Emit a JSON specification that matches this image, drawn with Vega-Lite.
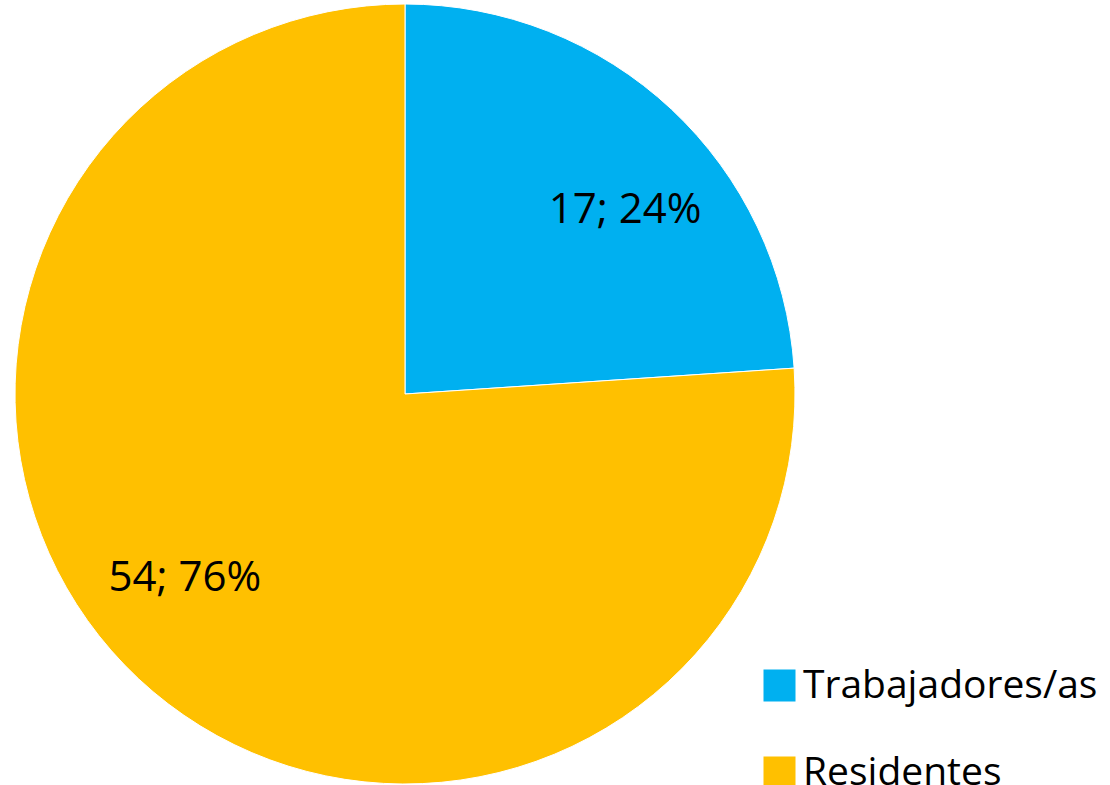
{
  "$schema": "https://vega.github.io/schema/vega-lite/v6.json",
  "width": 810,
  "height": 782,
  "autosize": "none",
  "padding": {"left": 0, "top": 3, "right": 300, "bottom": 0},
  "background": "white",
  "config": {"view": {"stroke": null}},
  "data": {
    "values": [
      {"grupo": "Trabajadores/as", "n": 17, "etiqueta": "17; 24%"},
      {"grupo": "Residentes", "n": 54, "etiqueta": "54; 76%"}
    ]
  },
  "layer": [
    {
      "mark": {"type": "arc", "outerRadius": 390, "stroke": "white", "strokeWidth": 1},
      "encoding": {
        "theta": {"field": "n", "type": "quantitative", "stack": true},
        "order": {"field": "n", "type": "quantitative", "sort": "ascending"},
        "color": {
          "field": "grupo",
          "type": "nominal",
          "sort": ["Trabajadores/as", "Residentes"],
          "scale": {"domain": ["Trabajadores/as", "Residentes"], "range": ["#00B0F0", "#FFC000"]},
          "legend": {
            "title": null,
            "orient": "none",
            "legendX": 760,
            "legendY": 663,
            "padding": 0,
            "symbolType": "square",
            "symbolSize": 1024,
            "symbolStrokeWidth": 0,
            "labelFont": "Open Sans",
            "labelFontSize": 39,
            "labelColor": "black",
            "labelOffset": 4,
            "rowPadding": 47,
            "labelLimit": 400
          }
        }
      }
    },
    {
      "mark": {"type": "text", "radius": 287, "font": "Open Sans", "fontSize": 42, "color": "black", "align": "center", "baseline": "middle"},
      "encoding": {
        "theta": {"field": "n", "type": "quantitative", "stack": true, "scale": {"range": [0.1222, 6.4054]}},
        "order": {"field": "n", "type": "quantitative", "sort": "ascending"},
        "text": {"field": "etiqueta", "type": "nominal"}
      }
    }
  ],
  "resolve": {"scale": {"theta": "independent"}}
}
